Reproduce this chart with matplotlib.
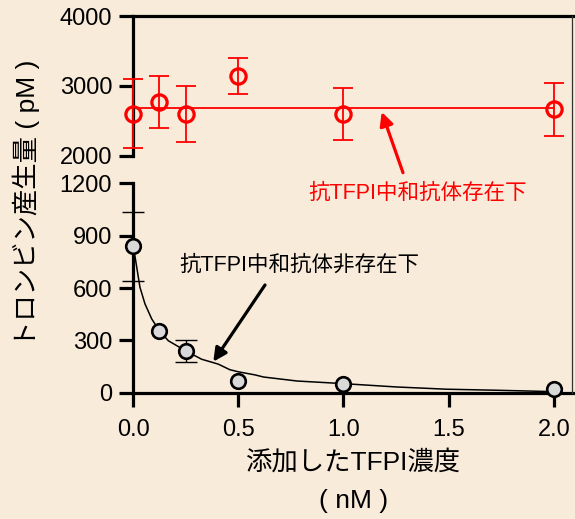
import numpy as np
import matplotlib
matplotlib.use("Agg")
import matplotlib.pyplot as plt
from matplotlib.ticker import FixedLocator
from matplotlib.lines import Line2D
from matplotlib.patches import FancyArrowPatch

# data
tfpi_nM = [0.0, 0.125, 0.25, 0.5, 1.0, 2.0]

# with anti-TFPI neutralising antibody (red, top panel)
with_ab = [2600, 2765, 2597, 3142, 2593, 2665]
with_ab_err = [495, 372, 395, 258, 370, 380]
with_ab_mean = 2690

# without antibody (gray, bottom panel)
without_ab = [840, 352, 240, 67, 50, 20]
without_ab_err = [197, np.nan, 62, np.nan, np.nan, np.nan]  # bars hidden behind symbols

# fitted curve
curve_x = [0.0, 0.01, 0.033, 0.057, 0.089, 0.125, 0.168, 0.25, 0.326, 0.405,
           0.46, 0.5, 0.58, 0.62, 0.78, 1.0, 1.25, 1.49, 1.73, 2.0]
curve_y = [840, 778, 605, 509, 423, 356, 298, 240, 192, 164,
           132, 120, 102, 90, 67, 52, 33, 20, 14, 6]

xticks = [0.0, 0.5, 1.0, 1.5, 2.0]
xticklabels = ["0.0", "0.5", "1.0", "1.5", "2.0"]
top_yticks = [2000, 3000, 4000]
bot_yticks = [0, 300, 600, 900, 1200]

bg = "#F8EBDA"
red = "#FF0000"
jp = ["Liberation Sans", "Noto Sans CJK JP"]

plt.rcParams["font.family"] = jp

fig = plt.figure(figsize=(5.75, 5.19), dpi=100, facecolor=bg)
W, H = 575.0, 519.0

ax_top = fig.add_axes([133 / W, 1 - 155.7 / H, 1 - 133 / W, (155.7 - 16) / H])
ax_bot = fig.add_axes([133 / W, 1 - 392.7 / H, 1 - 133 / W, (392.7 - 183.5) / H])

for ax in (ax_top, ax_bot):
    ax.set_facecolor("none")
    ax.set_xlim(0, 2.1)
    ax.spines["right"].set_visible(False)
    ax.spines["left"].set_linewidth(2.3)
    ax.tick_params(axis="both", which="major", direction="out", length=10,
                   width=2.3, labelsize=17, pad=5)

# ---- top panel
ax_top.set_ylim(2000, 4000)
ax_top.spines["bottom"].set_visible(False)
ax_top.spines["top"].set_linewidth(2.3)
ax_top.set_xticks([])
ax_top.set_yticks(top_yticks)
ax_top.set_yticklabels([str(v) for v in top_yticks])
ax_top.yaxis.set_minor_locator(FixedLocator([2000]))
ax_top.tick_params(axis="y", which="minor", direction="in", length=8, width=2.3)

ax_top.plot([tfpi_nM[0], tfpi_nM[-1]], [with_ab_mean, with_ab_mean], color=red,
            lw=1.3, zorder=2, clip_on=False)
ax_top.errorbar(tfpi_nM, with_ab, yerr=with_ab_err, fmt="none", ecolor=red,
                elinewidth=1.3, capsize=7, capthick=1.3, zorder=3, clip_on=False)
ax_top.plot(tfpi_nM, with_ab, "o", ms=11, mfc="none", mec=red, mew=2.3,
            zorder=4, clip_on=False)

# ---- bottom panel
ax_bot.set_ylim(0, 1200)
ax_bot.spines["top"].set_visible(False)
ax_bot.spines["bottom"].set_linewidth(2.3)
ax_bot.set_xticks(xticks)
ax_bot.set_xticklabels(xticklabels)
ax_bot.tick_params(axis="x", pad=9)
ax_bot.set_yticks(bot_yticks)
ax_bot.set_yticklabels([str(v) for v in bot_yticks])
ax_bot.yaxis.set_minor_locator(FixedLocator([1200]))
ax_bot.tick_params(axis="y", which="minor", direction="in", length=8, width=2.3)

ax_bot.plot(curve_x, curve_y, color="black", lw=1.1, zorder=2)
ax_bot.errorbar(tfpi_nM, without_ab, yerr=without_ab_err, fmt="none",
                ecolor="black", elinewidth=1.0, capsize=8, capthick=1.0,
                zorder=3, clip_on=False)
ax_bot.plot(tfpi_nM, without_ab, "o", ms=10.5, mfc="#D9D9D9", mec="black",
            mew=1.9, zorder=4, clip_on=False)

# thin frame line on the right side
fig.add_artist(Line2D([572 / W, 572 / W], [1 - 16 / H, 1 - 393 / H],
                      color="#333333", lw=0.9))

# annotations
fig.text(418 / W, 1 - 193 / H, "抗TFPI中和抗体存在下", color=red, fontsize=15.5,
         ha="center", va="center")
fig.text(299 / W, 1 - 265 / H, "抗TFPI中和抗体非存在下", color="black",
         fontsize=15.5, ha="center", va="center")

fig.add_artist(FancyArrowPatch((403 / W, 1 - 172.7 / H), (381.7 / W, 1 - 112 / H),
                               transform=fig.transFigure, arrowstyle="-|>",
                               color=red, lw=2.3, mutation_scale=20,
                               shrinkA=0, shrinkB=0))
fig.add_artist(FancyArrowPatch((265 / W, 1 - 285 / H), (213.3 / W, 1 - 361.7 / H),
                               transform=fig.transFigure, arrowstyle="-|>",
                               color="black", lw=2.3, mutation_scale=20,
                               shrinkA=0, shrinkB=0))

# axis labels
fig.text(26 / W, 1 - 203 / H, "トロンビン産生量 ( pM )", rotation=90,
         fontsize=19, ha="center", va="center")
fig.text(354 / W, 1 - 462 / H, "添加したTFPI濃度", fontsize=19,
         ha="center", va="center")
fig.text(354 / W, 1 - 501 / H, "( nM )", fontsize=19, ha="center", va="center")

fig.savefig("out.png", dpi=100, facecolor=bg)
